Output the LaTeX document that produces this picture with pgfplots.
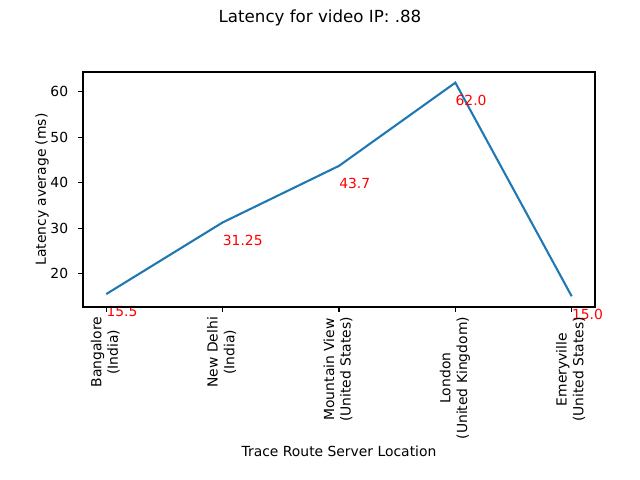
\documentclass[border=0pt]{standalone}
\usepackage{pgfplots}
\pgfplotsset{compat=1.18}
\usepackage{fontspec}
\setmainfont{DejaVu Sans}
\definecolor{mplblue}{HTML}{1F77B4}
\newcommand\tl[2]{\begin{tabular}{@{}c@{}}#1\\#2\end{tabular}}
\begin{document}
\begin{tikzpicture}
\useasboundingbox (-59.76pt,-124.56pt) rectangle (401.04pt,221.04pt);
\begin{axis}[
  at={(0,0)}, anchor=south west,
  scale only axis, width=368.64pt, height=169.2pt,
  xmin=-0.2, xmax=4.2, ymin=12.65, ymax=64.35,
  xtick={0,1,2,3,4},
  xticklabels={{\tl{Bangalore}{(India)}},{\tl{New Delhi}{(India)}},{\tl{Mountain View}{(United States)}},{\tl{London}{(United Kingdom)}},{\tl{Emeryville}{(United States)}}},
  ytick={20,30,40,50,60},
  tick align=outside, major tick length=3.5pt,
  tick style={black, line width=0.8pt},
  axis line style={line width=0.8pt},
  xtick pos=bottom, ytick pos=left,
  /pgf/number format/assume math mode=true,
  ticklabel style={font=\fontsize{10}{12}\selectfont},
  xticklabel style={rotate=90, anchor=east, inner sep=0pt, xshift=-3.5pt},
  yticklabel style={anchor=east, inner sep=0pt, xshift=-7pt},
  xlabel={Trace Route Server Location},
  ylabel={Latency average (ms)},
  label style={font=\fontsize{10}{12}\selectfont},
  xlabel style={at={(axis description cs:0.5,-0.6128)}, anchor=center},
  ylabel style={at={(axis description cs:-0.0801,0.5)}, anchor=center},
  clip=false,
  axis on top,
]
\addplot[mplblue, line width=1.5pt] coordinates {(0,15.5)(1,31.25)(2,43.7)(3,62.0)(4,15.0)};
\node[anchor=base west, inner sep=0pt, text=red, font=\fontsize{10}{12}\selectfont] at (axis cs:0,10.5) {15.5};
\node[anchor=base west, inner sep=0pt, text=red, font=\fontsize{10}{12}\selectfont] at (axis cs:1,26.25) {31.25};
\node[anchor=base west, inner sep=0pt, text=red, font=\fontsize{10}{12}\selectfont] at (axis cs:2,38.7) {43.7};
\node[anchor=base west, inner sep=0pt, text=red, font=\fontsize{10}{12}\selectfont] at (axis cs:3,57.0) {62.0};
\node[anchor=base west, inner sep=0pt, text=red, font=\fontsize{10}{12}\selectfont] at (axis cs:4,10.0) {15.0};
\end{axis}
\node[font=\fontsize{12}{14}\selectfont] at (170.64pt,208.08pt) {Latency for video IP: .88};
\end{tikzpicture}
\end{document}
